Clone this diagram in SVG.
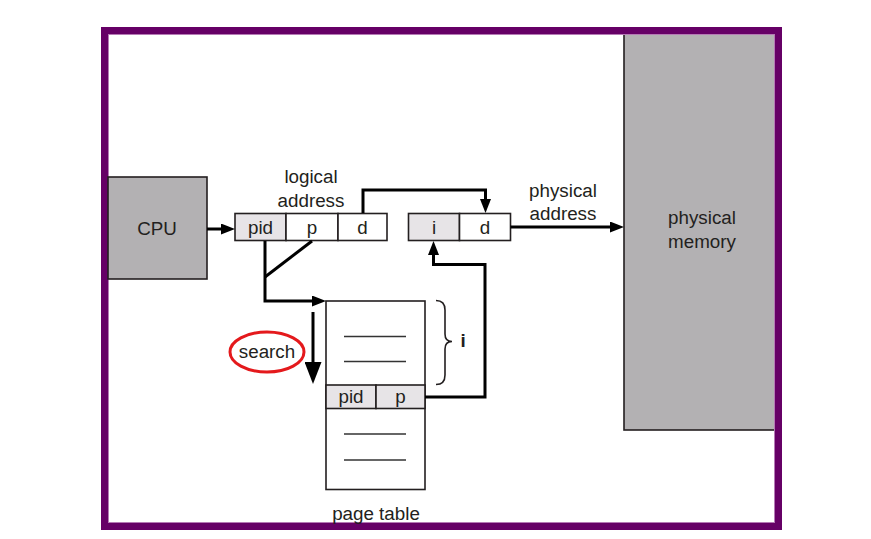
<svg xmlns="http://www.w3.org/2000/svg" width="871" height="539" viewBox="0 0 871 539">
<style>
  text { font-family: "Liberation Sans", Arial, sans-serif; font-size: 18.8px; fill: #231f20; text-anchor: middle; }
  .box { stroke: #231f20; stroke-width: 1.6; }
  .gray { fill: #b3b1b3; }
  .light { fill: #e7e4e7; }
  .white { fill: #ffffff; }
  .conn { fill: none; stroke: #000; stroke-width: 3; }
  .rule { stroke: #333; stroke-width: 1.6; }
</style>
<defs>
  <marker id="ah" viewBox="0 0 14 11" refX="4" refY="5.5" markerWidth="14" markerHeight="11" markerUnits="userSpaceOnUse" orient="auto">
    <path d="M0,0 L14,5.5 L0,11 z" fill="#000"/>
  </marker>
  <marker id="ahBig" viewBox="0 0 22 17" refX="0" refY="8.5" markerWidth="22" markerHeight="17" markerUnits="userSpaceOnUse" orient="auto">
    <path d="M0,0 L22,8.5 L0,17 z" fill="#000"/>
  </marker>
</defs>
<rect width="871" height="539" fill="#fff"/>

<g id="physical-memory">
  <rect x="624" y="34" width="151" height="396" class="gray box"/>
  <text x="702" y="224">physical</text>
  <text x="702" y="248">memory</text>
</g>

<g id="frame">
  <rect x="104.5" y="30.5" width="674" height="496" fill="none" stroke="#660066" stroke-width="7"/>
  <rect x="108.5" y="34.5" width="666" height="488" fill="none" stroke="#b57ab5" stroke-width="1"/>
</g>

<g id="cpu">
  <rect x="108" y="177" width="99" height="102" class="gray box"/>
  <text x="157" y="235">CPU</text>
</g>

<g id="logical-address">
  <rect x="235" y="213.5" width="51" height="27" class="light box"/>
  <rect x="286" y="213.5" width="52" height="27" class="white box"/>
  <rect x="338" y="213.5" width="49" height="27" class="white box"/>
  <text x="260.5" y="234">pid</text>
  <text x="312" y="234">p</text>
  <text x="362.5" y="234">d</text>
  <text x="311" y="183">logical</text>
  <text x="311" y="207">address</text>
</g>

<g id="physical-address">
  <rect x="408.5" y="213.5" width="51" height="27" class="light box"/>
  <rect x="459.5" y="213.5" width="51" height="27" class="white box"/>
  <text x="434" y="234">i</text>
  <text x="485" y="234">d</text>
  <text x="563" y="197">physical</text>
  <text x="563" y="220">address</text>
</g>

<g id="page-table">
  <rect x="326" y="301" width="99" height="188.5" class="white box"/>
  <rect x="326" y="385" width="50" height="23.5" class="light box"/>
  <rect x="376" y="385" width="49" height="23.5" class="light box"/>
  <text x="351" y="402.5">pid</text>
  <text x="400.5" y="402.5">p</text>
  <line x1="344" y1="336.5" x2="406" y2="336.5" class="rule"/>
  <line x1="344" y1="361.5" x2="406" y2="361.5" class="rule"/>
  <line x1="344" y1="434" x2="406" y2="434" class="rule"/>
  <line x1="344" y1="460" x2="406" y2="460" class="rule"/>
  <text x="376" y="520">page table</text>
</g>

<g id="brace">
  <path d="M436,300.5 Q445,300.5 445,310 L445,334 Q445,341.5 452,341.5 Q445,341.5 445,349 L445,375 Q445,384.5 436,384.5" fill="none" stroke="#231f20" stroke-width="1.6"/>
  <text x="463" y="347" style="font-weight:bold">i</text>
</g>

<g id="search">
  <ellipse cx="267" cy="352" rx="37" ry="20" fill="none" stroke="#e4191c" stroke-width="3"/>
  <text x="267" y="358">search</text>
</g>

<g id="connectors">
  <line x1="207" y1="229" x2="225" y2="229" class="conn" marker-end="url(#ah)"/>
  <path d="M363,213 V190 H485.5 V203" class="conn" marker-end="url(#ah)"/>
  <line x1="510.5" y1="227" x2="614" y2="227" class="conn" marker-end="url(#ah)"/>
  <path d="M265,241 V301 H316" class="conn" marker-end="url(#ah)"/>
  <line x1="312" y1="241" x2="265" y2="277" class="conn"/>
  <path d="M425,397 H485 V264.5 H433.5 V251" class="conn" marker-end="url(#ah)"/>
  <line x1="313" y1="312" x2="313" y2="362" class="conn" marker-end="url(#ahBig)"/>
</g>
</svg>
